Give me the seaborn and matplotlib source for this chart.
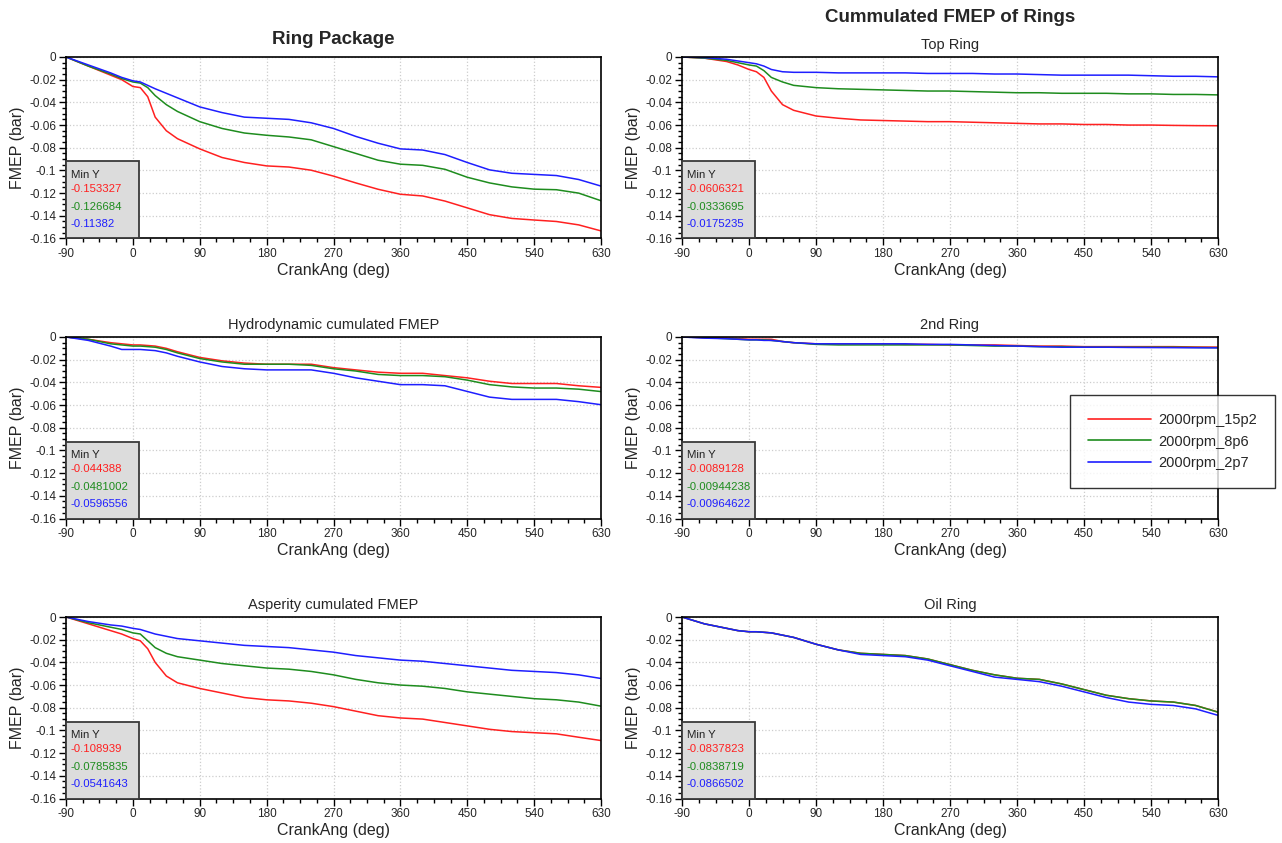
import numpy as np
import pandas as pd
import matplotlib
matplotlib.use("Agg")
import matplotlib.pyplot as plt
from matplotlib.patches import Rectangle
from matplotlib.lines import Line2D
from matplotlib.ticker import MultipleLocator, FuncFormatter
import seaborn as sns

sns.set_theme(style="white")
plt.rcParams['font.family'] = ['Liberation Sans', 'DejaVu Sans']
plt.rcParams['axes.unicode_minus'] = False

# ---------------- data ----------------
series = ["2000rpm_15p2", "2000rpm_8p6", "2000rpm_2p7"]
colors = ["#FF2020", "#1E8C1E", "#1E1EFF"]

crank = [-90, -60, -30, -15, 0, 10, 20, 30, 45, 60, 90, 120, 150, 180, 210,
         240, 270, 300, 330, 360, 390, 420, 450, 480, 510, 540, 570, 600, 630]

ring_red = [0, -0.008, -0.016, -0.020, -0.026, -0.027, -0.035, -0.053, -0.065, -0.072, -0.081, -0.0886, -0.093, -0.096, -0.097,
            -0.0998, -0.105, -0.111, -0.1166, -0.121, -0.1225, -0.127, -0.133, -0.139, -0.1423, -0.1437, -0.145, -0.148, -0.1533]
ring_green = [0, -0.008, -0.015, -0.019, -0.022, -0.023, -0.027, -0.034, -0.042, -0.048, -0.057, -0.063, -0.067, -0.069, -0.0705,
              -0.073, -0.079, -0.085, -0.091, -0.0945, -0.0955, -0.099, -0.106, -0.111, -0.1145, -0.1165, -0.117, -0.120, -0.1267]
ring_blue = [0, -0.007, -0.014, -0.018, -0.021, -0.022, -0.025, -0.028, -0.032, -0.036, -0.044, -0.049, -0.053, -0.054, -0.055,
             -0.058, -0.063, -0.070, -0.076, -0.081, -0.082, -0.086, -0.093, -0.0995, -0.1025, -0.1035, -0.1045, -0.108, -0.1138]

top_red = [0, -0.001, -0.004, -0.007, -0.011, -0.013, -0.018, -0.030, -0.042, -0.047, -0.052, -0.054, -0.0555, -0.056, -0.0565,
           -0.057, -0.057, -0.0575, -0.058, -0.0585, -0.059, -0.059, -0.0595, -0.0595, -0.060, -0.060, -0.0603, -0.0605, -0.0606]
top_green = [0, -0.001, -0.003, -0.005, -0.007, -0.008, -0.012, -0.018, -0.022, -0.025, -0.027, -0.028, -0.0285, -0.029, -0.0295,
             -0.030, -0.030, -0.0305, -0.031, -0.0315, -0.0315, -0.032, -0.032, -0.032, -0.0325, -0.0325, -0.033, -0.033, -0.0334]
top_blue = [0, -0.0005, -0.002, -0.0035, -0.005, -0.006, -0.008, -0.011, -0.013, -0.0135, -0.0135, -0.014, -0.014, -0.014, -0.014,
            -0.0145, -0.0145, -0.0145, -0.015, -0.015, -0.0155, -0.016, -0.016, -0.016, -0.016, -0.0165, -0.017, -0.017, -0.0175]

hydro_red = [0, -0.002, -0.005, -0.006, -0.007, -0.007, -0.0075, -0.008, -0.010, -0.013, -0.018, -0.021, -0.023, -0.024, -0.024,
             -0.024, -0.027, -0.029, -0.031, -0.032, -0.032, -0.034, -0.036, -0.039, -0.041, -0.041, -0.041, -0.043, -0.0444]
hydro_green = [0, -0.002, -0.006, -0.007, -0.008, -0.008, -0.0085, -0.009, -0.011, -0.014, -0.019, -0.022, -0.024, -0.024, -0.024,
               -0.025, -0.028, -0.030, -0.033, -0.034, -0.034, -0.035, -0.038, -0.042, -0.044, -0.045, -0.045, -0.046, -0.0481]
hydro_blue = [0, -0.003, -0.008, -0.011, -0.011, -0.011, -0.0115, -0.012, -0.014, -0.017, -0.022, -0.026, -0.028, -0.029, -0.029,
              -0.029, -0.032, -0.036, -0.039, -0.042, -0.042, -0.043, -0.048, -0.053, -0.055, -0.055, -0.055, -0.057, -0.0597]

second_red = [0, -0.0005, -0.001, -0.0015, -0.002, -0.002, -0.002, -0.002, -0.004, -0.005, -0.006, -0.006, -0.006, -0.006, -0.0065,
              -0.0065, -0.007, -0.007, -0.007, -0.0075, -0.008, -0.008, -0.0085, -0.0085, -0.0085, -0.0085, -0.0085, -0.0088, -0.0089]
second_green = [0, -0.0005, -0.0015, -0.002, -0.0025, -0.0025, -0.0025, -0.003, -0.004, -0.005, -0.0065, -0.007, -0.007, -0.007, -0.007,
                -0.007, -0.007, -0.0075, -0.008, -0.008, -0.0085, -0.0085, -0.009, -0.009, -0.009, -0.009, -0.009, -0.0092, -0.0094]
second_blue = [0, -0.001, -0.0015, -0.002, -0.0025, -0.0025, -0.003, -0.003, -0.004, -0.005, -0.006, -0.006, -0.006, -0.006, -0.006,
               -0.0065, -0.0065, -0.007, -0.0075, -0.008, -0.0085, -0.009, -0.009, -0.009, -0.0092, -0.0093, -0.0094, -0.0095, -0.0096]

asp_red = [0, -0.006, -0.012, -0.015, -0.019, -0.021, -0.028, -0.040, -0.052, -0.058, -0.063, -0.067, -0.071, -0.073, -0.074,
           -0.076, -0.079, -0.083, -0.087, -0.089, -0.090, -0.093, -0.096, -0.099, -0.101, -0.102, -0.103, -0.106, -0.1089]
asp_green = [0, -0.005, -0.009, -0.011, -0.014, -0.015, -0.021, -0.027, -0.032, -0.035, -0.038, -0.041, -0.043, -0.045, -0.046,
             -0.048, -0.051, -0.055, -0.058, -0.060, -0.061, -0.063, -0.066, -0.068, -0.070, -0.072, -0.073, -0.075, -0.0786]
asp_blue = [0, -0.004, -0.007, -0.008, -0.010, -0.011, -0.013, -0.015, -0.017, -0.019, -0.021, -0.023, -0.025, -0.026, -0.027,
            -0.029, -0.031, -0.034, -0.036, -0.038, -0.039, -0.041, -0.043, -0.045, -0.047, -0.048, -0.049, -0.051, -0.0542]

oil_red = [0, -0.006, -0.010, -0.012, -0.013, -0.013, -0.0135, -0.014, -0.016, -0.018, -0.024, -0.029, -0.032, -0.033, -0.034,
           -0.037, -0.042, -0.047, -0.051, -0.054, -0.055, -0.059, -0.064, -0.069, -0.072, -0.074, -0.075, -0.078, -0.0838]
oil_green = [0, -0.006, -0.010, -0.012, -0.013, -0.013, -0.0135, -0.014, -0.016, -0.018, -0.024, -0.029, -0.032, -0.033, -0.034,
             -0.037, -0.042, -0.047, -0.051, -0.054, -0.055, -0.059, -0.064, -0.069, -0.072, -0.074, -0.075, -0.078, -0.0839]
oil_blue = [0, -0.006, -0.010, -0.012, -0.013, -0.013, -0.0135, -0.014, -0.016, -0.018, -0.024, -0.029, -0.033, -0.034, -0.035,
            -0.038, -0.043, -0.048, -0.053, -0.055, -0.057, -0.061, -0.066, -0.071, -0.075, -0.077, -0.078, -0.081, -0.0867]

ring_min = ["-0.153327", "-0.126684", "-0.11382"]
top_min = ["-0.0606321", "-0.0333695", "-0.0175235"]
hydro_min = ["-0.044388", "-0.0481002", "-0.0596556"]
second_min = ["-0.0089128", "-0.00944238", "-0.00964622"]
asp_min = ["-0.108939", "-0.0785835", "-0.0541643"]
oil_min = ["-0.0837823", "-0.0838719", "-0.0866502"]

x_ticks = [-90, 0, 90, 180, 270, 360, 450, 540, 630]
y_ticks = [0, -0.02, -0.04, -0.06, -0.08, -0.1, -0.12, -0.14, -0.16]

# ---------------- figure ----------------
fig = plt.figure(figsize=(12.82, 8.43), dpi=100)

W, H = 1282.0, 843.0
def axes_px(x0, x1, y0, y1):
    return fig.add_axes([x0 / W, 1 - y1 / H, (x1 - x0) / W, (y1 - y0) / H])

panels = [
    (66, 601, 57, 238.5, "", (ring_red, ring_green, ring_blue), ring_min),
    (682, 1218, 57, 238.5, "Top Ring", (top_red, top_green, top_blue), top_min),
    (66, 601, 337, 518.5, "Hydrodynamic cumulated FMEP", (hydro_red, hydro_green, hydro_blue), hydro_min),
    (682, 1218, 337, 518.5, "2nd Ring", (second_red, second_green, second_blue), second_min),
    (66, 601, 617, 798.5, "Asperity cumulated FMEP", (asp_red, asp_green, asp_blue), asp_min),
    (682, 1218, 617, 798.5, "Oil Ring", (oil_red, oil_green, oil_blue), oil_min),
]

def fmt_y(v, pos):
    if abs(v) < 1e-12:
        return "0"
    s = ("%.2f" % v)
    if s.endswith("0"):
        s = s[:-1]
    return s

for x0, x1, y0, y1, title, ys, mins in panels:
    ax = axes_px(x0, x1, y0, y1)
    df = pd.DataFrame({
        "CrankAng": crank * 3,
        "FMEP": list(ys[0]) + list(ys[1]) + list(ys[2]),
        "case": [series[0]] * len(crank) + [series[1]] * len(crank) + [series[2]] * len(crank),
    })
    sns.lineplot(data=df, x="CrankAng", y="FMEP", hue="case", palette=colors,
                 hue_order=series, ax=ax, linewidth=1.1, legend=False, estimator=None, sort=False)
    ax.set_xlim(-90, 630)
    ax.set_ylim(-0.16, 0)
    ax.set_xticks(x_ticks)
    ax.set_yticks(y_ticks)
    ax.xaxis.set_minor_locator(MultipleLocator(22.5))
    ax.yaxis.set_minor_locator(MultipleLocator(0.005))
    ax.yaxis.set_major_formatter(FuncFormatter(fmt_y))
    ax.tick_params(axis="both", which="major", direction="out", length=5, width=1,
                   labelsize=8.5, pad=2, color="black", bottom=True, left=True)
    ax.tick_params(axis="both", which="minor", direction="out", length=3, width=1,
                   color="black", bottom=True, left=True)
    ax.grid(True, which="major", color="#CDCDCD", linestyle=":", linewidth=0.9)
    for sp in ax.spines.values():
        sp.set_color("black")
        sp.set_linewidth(1.2)
    ax.set_xlabel("CrankAng (deg)", fontsize=11.5, labelpad=2)
    ax.set_ylabel("FMEP (bar)", fontsize=11.5, labelpad=3)
    if title:
        ax.set_title(title, fontsize=10.5, pad=6)
    # Min Y box
    bw = 73.0 / (x1 - x0)
    bh = 77.0 / (y1 - y0)
    ax.add_patch(Rectangle((0, 0), bw, bh, transform=ax.transAxes, facecolor="#DCDCDC",
                           edgecolor="#3A3A3A", linewidth=1.3, zorder=5, clip_on=False))
    ax.text(0.01, 0.35, "Min Y", transform=ax.transAxes, fontsize=8.2, color="#222222",
            va="center", ha="left", zorder=6)
    for k, (m, c) in enumerate(zip(mins, colors)):
        ax.text(0.008, 0.27 - k * 0.094, m, transform=ax.transAxes, fontsize=8.2, color=c,
                va="center", ha="left", zorder=6)

fig.text(333 / W, 1 - 40 / H, "Ring Package", fontsize=13.5, fontweight="bold", ha="center", va="center")
fig.text(950 / W, 1 - 17 / H, "Cummulated FMEP of Rings", fontsize=13.5, fontweight="bold", ha="center", va="center")

# legend
handles = [Line2D([0], [0], color=c, linewidth=1.2) for c in colors]
leg = fig.legend(handles, series, loc="center",
                 bbox_to_anchor=((1065 + 1280) / 2 / W, 1 - (396 + 487) / 2 / H),
                 fontsize=10.5, frameon=True, fancybox=False, edgecolor="black",
                 handlelength=4.3, borderpad=1.25, labelspacing=0.5, handletextpad=0.5,
                 borderaxespad=0)
leg.get_frame().set_linewidth(1.0)

fig.savefig("out.png", dpi=100)
